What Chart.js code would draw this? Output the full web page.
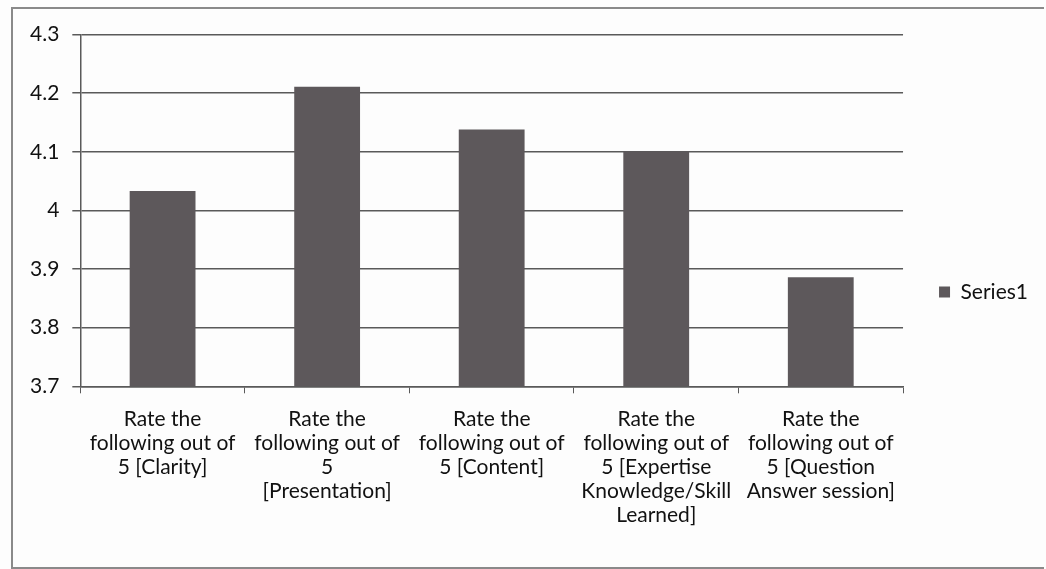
<!DOCTYPE html>
<html>
<head>
<meta charset="utf-8">
<script src="https://cdn.jsdelivr.net/npm/chart.js@4/dist/chart.umd.min.js"></script>
<style>
    html, body { margin: 0; padding: 0; background: #fdfdfd; overflow: hidden; }
    #frame {
        position: absolute;
        left: 11px;
        top: 7px;
        width: 1031px;
        height: 558px;
        border-left: 2px solid #8a8a8a;
        border-top: 2px solid #8a8a8a;
        border-bottom: 2px solid #8a8a8a;
    }
</style>
</head>
<body>
<div id="frame"><canvas id="chart"></canvas></div>
<script>
// Categories (wrapped as in the original)
const categories = [
    ['Rate the', 'following out of', '5 [Clarity]'],
    ['Rate the', 'following out of', '5', '[Presentation]'],
    ['Rate the', 'following out of', '5 [Content]'],
    ['Rate the', 'following out of', '5 [Expertise', 'Knowledge/Skill', 'Learned]'],
    ['Rate the', 'following out of', '5 [Question', 'Answer session]']
];

// Series values
const series1 = [4.033, 4.211, 4.138, 4.101, 3.886];

// Axis range
const yMin = 3.7;
const yMax = 4.3;
const yStep = 0.1;

const COLORS = {
    bar: '#5d585b',
    grid: '#5a5a5a',
    text: '#111111'
};

const FONT = 'Lato, "Open Sans", sans-serif';

new Chart(document.getElementById('chart'), {
    type: 'bar',
    data: {
        labels: categories,
        datasets: [{
            label: 'Series1',
            data: series1,
            backgroundColor: COLORS.bar,
            barPercentage: 0.4,
            categoryPercentage: 1.0
        }]
    },
    options: {
        responsive: true,
        maintainAspectRatio: false,
        animation: false,
        layout: {
            padding: { top: 8, left: 4, right: 6, bottom: 0 }
        },
        plugins: {
            legend: {
                position: 'right',
                labels: {
                    boxWidth: 11,
                    boxHeight: 11,
                    padding: 36,
                    color: COLORS.text,
                    font: { family: FONT, size: 21 }
                }
            },
            tooltip: { enabled: false }
        },
        scales: {
            x: {
                grid: {
                    drawOnChartArea: false,
                    drawTicks: true,
                    tickLength: 7,
                    color: COLORS.grid
                },
                border: { color: COLORS.grid, width: 1.5 },
                ticks: {
                    color: COLORS.text,
                    maxRotation: 0,
                    autoSkip: false,
                    padding: 14,
                    font: { family: FONT, size: 21, lineHeight: 1.14 }
                },
                // leave the empty band under the labels, as in the original
                afterFit: scale => { scale.height += 26; }
            },
            y: {
                min: yMin,
                max: yMax,
                grid: {
                    color: COLORS.grid,
                    lineWidth: 1.5,
                    tickLength: 8
                },
                border: { color: COLORS.grid, width: 1.5 },
                ticks: {
                    stepSize: yStep,
                    color: COLORS.text,
                    padding: 13,
                    font: { family: FONT, size: 21 },
                    callback: v => Math.round(v * 10) / 10
                }
            }
        }
    }
});
</script>
</body>
</html>
